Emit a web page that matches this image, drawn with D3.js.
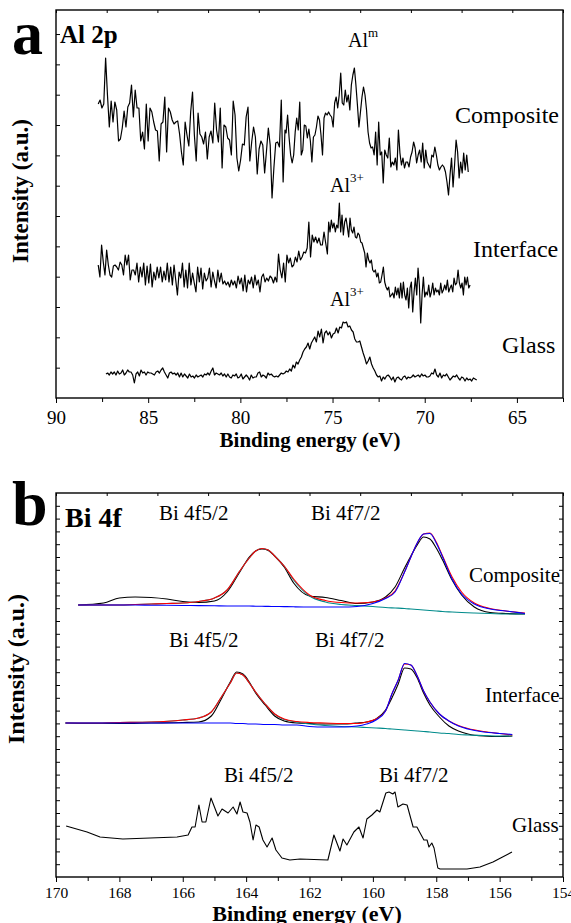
<!DOCTYPE html>
<html>
<head>
<meta charset="utf-8">
<script src="https://cdn.jsdelivr.net/npm/d3@7"></script>
<style>
    body { margin: 0; background: #fff; }
    svg text { font-family: "Liberation Serif", "Tinos", "DejaVu Serif", "Noto Serif", serif; fill: #000; }
</style>
</head>
<body>
<div id="chart"></div>
<script>
// ---------------- panel a : Al 2p (intensity in arbitrary units) ----------------
const alTicksMajor = [90, 85, 80, 75, 70, 65];
const alTicksMinor = [87.5, 82.5, 77.5, 72.5, 67.5, 62.5];

// Composite, 87.71 -> 77.58 eV
const alCompositeA = [294, 298, 290, 294, 340, 303, 271, 297, 276, 296, 288, 257, 259, 270, 287, 271, 291, 295, 313, 281,
    308, 290, 290, 257, 266, 249, 294, 257, 290, 286, 276, 268, 267, 237, 274, 276, 301, 246, 290, 286,
    278, 274, 276, 277, 264, 246, 233, 276, 263, 252, 286, 306, 263, 237, 285, 264, 261, 254, 266, 239,
    261, 267, 255, 295, 268, 256, 290, 230, 273, 271, 260, 258, 243, 297, 283, 240, 227, 238, 254, 253,
    281, 291, 237, 256, 271, 261, 224, 249, 257, 253, 225, 247, 270, 253, 200, 230, 255, 256, 251, 298,
    216, 268];
// Composite, 77.52 -> 67.64 eV
const alCompositeB = [265, 283, 260, 243, 235, 243, 266, 280, 268, 296, 243, 248, 273, 272, 260, 269, 257, 236, 261, 263,
    271, 282, 278, 263, 243, 280, 285, 283, 286, 283, 281, 271, 295, 301, 290, 303, 325, 295, 293, 308,
    296, 303, 288, 313, 323, 330, 313, 293, 271, 286, 301, 311, 303, 288, 266, 255, 250, 251, 243, 266,
    233, 276, 243, 246, 215, 248, 243, 240, 260, 231, 236, 233, 240, 228, 268, 245, 233, 240, 230, 236,
    236, 231, 241, 246, 256, 250, 235, 243, 248, 236, 255, 230, 248, 236, 233, 230, 243, 241, 251, 243,
    233, 228, 231, 233, 231, 226, 216, 203, 223, 240, 211, 233, 258, 246, 220, 236, 225, 245, 228, 243,
    226];
// Interface, 87.71 -> 75.28 eV
const alInterfaceA = [133, 121, 153, 136, 123, 148, 133, 123, 121, 132, 133, 131, 128, 136, 133, 123, 143, 133, 143, 118,
    128, 128, 123, 135, 116, 131, 121, 135, 113, 132, 115, 134, 111, 126, 118, 131, 120, 131, 116, 127,
    118, 135, 116, 131, 113, 133, 118, 103, 126, 120, 135, 111, 128, 110, 135, 113, 125, 115, 106, 131,
    116, 130, 109, 125, 117, 120, 130, 111, 126, 117, 110, 128, 116, 125, 114, 117, 113, 116, 111, 118,
    113, 117, 110, 122, 114, 120, 107, 123, 106, 118, 114, 121, 110, 123, 113, 118, 106, 121, 124, 116,
    120, 117, 122, 120, 115, 121, 116, 144, 128, 120, 135, 116, 143, 135, 140, 131, 133, 141, 136, 147,
    138, 141, 146, 145, 150, 176, 141, 163, 156, 161, 155, 160, 153, 153, 166, 155, 144];
// Interface, 75.21 -> 67.54 eV
const alInterfaceB = [176, 166, 178, 170, 175, 166, 173, 170, 195, 166, 183, 163, 176, 180, 171, 161, 180, 168, 165, 171,
    161, 160, 165, 163, 156, 155, 150, 145, 131, 145, 138, 135, 138, 128, 126, 128, 121, 125, 115, 116,
    123, 131, 116, 111, 108, 111, 101, 103, 105, 100, 111, 103, 110, 100, 115, 100, 116, 103, 98, 110,
    90, 110, 116, 86, 106, 120, 103, 130, 113, 75, 103, 121, 101, 106, 103, 113, 101, 106, 115, 103,
    110, 106, 108, 103, 115, 105, 108, 113, 108, 118, 106, 110, 113, 106, 120, 113, 115, 128, 115, 110,
    115, 103, 121, 113, 121, 110, 113];
// Glass, 87.29 -> 67.18 eV
const alGlass = [24, 25, 23, 26, 24, 26, 23, 27, 24, 25, 28, 23, 25, 28, 26, 26, 23, 15, 24, 26,
    22, 28, 25, 26, 23, 26, 25, 25, 24, 23, 26, 27, 25, 28, 30, 26, 23, 20, 25, 26,
    24, 25, 23, 25, 21, 25, 21, 24, 22, 20, 24, 21, 22, 20, 23, 21, 22, 23, 21, 24,
    23, 25, 23, 27, 30, 23, 25, 24, 23, 25, 22, 24, 21, 24, 21, 20, 23, 22, 24, 20,
    21, 24, 19, 21, 23, 21, 18, 23, 20, 21, 21, 25, 26, 21, 23, 22, 20, 25, 23, 24,
    22, 21, 22, 21, 23, 25, 24, 25, 27, 26, 29, 27, 33, 30, 36, 34, 38, 41, 46, 49,
    51, 55, 49, 55, 58, 61, 56, 67, 61, 69, 55, 65, 67, 63, 66, 60, 64, 65, 70, 65,
    71, 70, 76, 75, 76, 71, 72, 68, 66, 59, 56, 56, 57, 51, 45, 40, 34, 37, 41, 34,
    30, 27, 23, 21, 22, 17, 21, 19, 22, 23, 21, 18, 21, 16, 20, 21, 19, 18, 21, 22,
    19, 21, 20, 21, 23, 21, 22, 23, 21, 24, 22, 23, 21, 21, 22, 25, 24, 29, 23, 21,
    25, 20, 23, 22, 24, 21, 18, 20, 22, 21, 23, 20, 18, 21, 20, 17, 20, 18, 19, 17,
    20, 19, 18];

// ---------------- panel b : Bi 4f ----------------
const biTicksMajor = [170, 168, 166, 164, 162, 160, 158, 156, 154];
const biTicksMinor = [169, 167, 165, 163, 161, 159, 157, 155];

const biCompE = [169.3, 168.5, 168, 167.5, 167, 166.5, 166, 165.5, 165, 164.6, 164.2, 163.9, 163.7, 163.5, 163.3, 163.1,
    162.8, 162.5, 162, 161.5, 161, 160.5, 160, 159.6, 159.3, 159, 158.8, 158.6, 158.4, 158.2, 158, 157.8,
    157.5, 157.2, 156.8, 156.3, 155.8, 155.2];
const biCompRaw = [272, 274, 279, 280, 279.5, 278, 275.5, 274.5, 276, 285, 305, 320, 326, 328, 326.5, 321,
    310, 294, 281, 279.5, 276.5, 273.5, 275, 280, 290, 309, 321, 332, 340, 338, 329, 317,
    297, 282, 270, 264.5, 263.5, 263];
const biCompEnvelope = [272, 272, 272, 272.5, 273, 273.5, 274, 275.5, 279, 287, 306, 319, 326, 328.5, 327, 321,
    311, 298, 282, 276.5, 274.5, 274, 275, 279, 286, 305, 320, 334, 343, 344, 335, 321,
    300, 285, 274, 268.5, 266, 264];
const biCompF72 = [272, 272, 272, 272, 271.8, 271.7, 271.5, 271.4, 271.2, 271, 271, 271, 270.8, 270.7, 270.6, 270.5,
    270.4, 270.2, 270, 270, 270, 270.5, 273.5, 278.5, 285, 305, 320, 334, 343, 343.5, 334, 320,
    298, 283, 273, 268, 266, 263.5];
const biCompF52 = [272, 272, 272, 272.5, 273, 273.5, 274, 275.5, 279, 287, 306, 319, 326, 328.5, 327, 321,
    311, 297, 281, 275, 272.5, 271.5, 270.5, 269.5, 269, 268.5, 268, 267.5, 267, 266.5, 266, 265.5,
    265, 264.5, 264, 263.5, 263, 263];

const biIntE = [169.7, 169, 168, 167, 166, 165.5, 165.1, 164.8, 164.5, 164.3, 164.1, 163.9, 163.7, 163.4, 163.1, 162.8,
    162.4, 162, 161.5, 161, 160.5, 160.2, 159.9, 159.6, 159.4, 159.2, 159, 158.8, 158.6, 158.4, 158.2, 157.9,
    157.6, 157.3, 157, 156.5, 156, 155.6];
const biIntRaw = [154, 153.5, 153.5, 154, 154.5, 155, 161, 177, 195, 205, 203, 195, 184, 172, 161, 156,
    154, 153.5, 153, 153, 154, 155, 158, 167, 179, 193, 209, 208, 199, 184, 172, 160,
    151, 146, 143, 141, 140.5, 141];
const biIntEnvelope = [154, 154, 154.5, 155, 157, 159, 165, 179, 194, 204, 202, 194, 185, 173, 163, 158,
    155.5, 154.5, 154, 153.5, 153.5, 155, 158, 166, 183, 197, 213, 212, 201, 186, 175, 163,
    156, 151.5, 148.5, 145.5, 143.5, 142];
const biIntF72 = [154, 154, 154, 154, 154, 154, 154, 154, 154, 153.5, 153.5, 153, 153, 152.5, 152.5, 152,
    152, 150.5, 150, 150, 151, 153, 157, 166, 183, 197, 213.5, 212, 201, 186, 175, 163,
    156, 151, 148, 145, 143.5, 142.5];
const biIntF52 = [154, 154, 154.5, 155, 157, 159, 165, 179, 194, 204, 202, 194, 185, 173, 163, 157.5,
    155, 153, 151.5, 150.5, 150, 149.5, 149, 148.5, 148, 147.5, 147, 146.5, 146, 145.5, 145, 144,
    143.5, 142.5, 142, 141.5, 141, 141];

const biGlassE = [169.68, 169.02, 168.61, 167.89, 167.03, 166.18, 165.83, 165.71, 165.61, 165.49, 165.39, 165.27,
    165.11, 164.89, 164.76, 164.57, 164.41, 164.29, 164.19, 164.10, 163.97, 163.88, 163.78, 163.69,
    163.59, 163.47, 163.34, 163.18, 163.06, 162.87, 162.62, 162.30, 161.42, 161.23, 161.04, 160.94,
    160.82, 160.60, 160.44, 160.31, 160.19, 160.03, 159.87, 159.78, 159.59, 159.49, 159.37, 159.30,
    159.21, 159.05, 158.92, 158.73, 158.61, 158.51, 158.39, 158.29, 158.23, 158.14, 158.07, 157.95,
    157.88, 157.03, 156.62, 156.21, 155.61];
const biGlass = [51, 45, 40, 38, 39, 40, 42, 50, 50, 72, 55, 55,
    79, 61, 68, 64, 70, 63, 75, 65, 64, 55, 37, 52,
    50, 37, 30, 39, 27, 19, 17, 18, 17, 42, 26, 38,
    32, 45, 50, 39, 58, 62, 67, 65, 84, 85, 83, 85,
    70, 73, 72, 50, 50, 44, 37, 37, 30, 34, 29, 9,
    8, 8, 10, 15, 25];

// ---------------- helpers ----------------
const W = 571, H = 923;
const plotLeft = 56, plotRight = 563;
const serif = "Liberation Serif, Tinos, DejaVu Serif, Noto Serif, serif";

const svg = d3.select("#chart").append("svg")
    .attr("width", W)
    .attr("height", H);

// sampling grid of a scan segment (evenly spaced channels)
function scan(from, to, values) {
    return values.map((v, i) => [from + (to - from) * i / (values.length - 1), v]);
}

function drawFrame(cfg) {
    let g = svg.append("g");

    let x = d3.scaleLinear().domain(cfg.xDomain).range([plotLeft, plotRight]);
    let y = d3.scaleLinear().domain(cfg.yDomain).range([cfg.bottom, cfg.top]);

    // bottom axis, major + minor
    let ax = g.append("g")
        .attr("transform", "translate(0," + cfg.bottom + ")")
        .call(d3.axisBottom(x).tickValues(cfg.major).tickSize(5).tickPadding(cfg.tickPad).tickFormat(d3.format("d")));
    ax.attr("font-family", serif).attr("font-size", cfg.tickFont);
    g.append("g")
        .attr("transform", "translate(0," + cfg.bottom + ")")
        .call(d3.axisBottom(x).tickValues(cfg.minor).tickSize(4).tickFormat(""));

    // top ticks (unlabelled, 10 intervals)
    let top = d3.scaleLinear().domain([0, 10]).range([plotLeft, plotRight]);
    g.append("g")
        .attr("transform", "translate(0," + cfg.top + ")")
        .call(d3.axisTop(top).ticks(10).tickSize(-3).tickFormat(""));

    // left ticks pointing inside
    g.append("g")
        .attr("transform", "translate(" + plotLeft + ",0)")
        .call(d3.axisLeft(y).tickValues(cfg.leftTicks).tickSize(-4).tickFormat(""));

    if (cfg.rightTicks) {
        g.append("g")
            .attr("transform", "translate(" + plotRight + ",0)")
            .call(d3.axisRight(y).tickValues(cfg.rightTicks).tickSize(-4).tickFormat(""));
    }

    g.selectAll(".domain").remove();
    g.selectAll(".tick line").attr("stroke", "#000").attr("stroke-width", 1);

    g.append("rect")
        .attr("x", plotLeft).attr("y", cfg.top)
        .attr("width", plotRight - plotLeft).attr("height", cfg.bottom - cfg.top)
        .attr("fill", "none").attr("stroke", "#000").attr("stroke-width", 1.4);

    // axis titles
    g.append("text")
        .attr("x", cfg.xTitle[0]).attr("y", cfg.xTitle[1])
        .attr("text-anchor", "middle")
        .attr("font-weight", "bold")
        .attr("font-size", cfg.xTitle[2])
        .text("Binding energy (eV)");
    g.append("text")
        .attr("transform", "translate(" + cfg.yTitle[0] + "," + cfg.yTitle[1] + ") rotate(-90)")
        .attr("text-anchor", "middle")
        .attr("font-weight", "bold")
        .attr("font-size", cfg.yTitle[2])
        .text("Intensity (a.u.)");

    return {x: x, y: y};
}

function label(txt, x, y, size, opts) {
    opts = opts || {};
    let t = svg.append("text")
        .attr("x", x).attr("y", y)
        .attr("font-size", size)
        .attr("font-weight", opts.bold ? "bold" : "normal")
        .text(txt);
    if (opts.sup) {
        t.append("tspan")
            .attr("dy", -opts.supRise)
            .attr("font-size", opts.supSize)
            .text(opts.sup);
    }
    return t;
}

function drawLine(sc, pts, color, width, curve) {
    let line = d3.line()
        .x(d => sc.x(d[0]))
        .y(d => sc.y(d[1]))
        .curve(curve || d3.curveLinear);
    svg.append("path")
        .datum(pts)
        .attr("d", line)
        .attr("fill", "none")
        .attr("stroke", color)
        .attr("stroke-width", width)
        .attr("stroke-linejoin", "round");
}

// ---------------- panel a ----------------
let scA = drawFrame({
    top: 10, bottom: 398,
    xDomain: [90, 62.5], yDomain: [0, 388],
    major: alTicksMajor, minor: alTicksMinor,
    tickPad: 8, tickFont: 19,
    leftTicks: d3.range(1, 13).map(k => k * 30.33),
    xTitle: [310, 447, 21],
    yTitle: [28, 191, 23]
});

drawLine(scA, scan(87.71, 77.58, alCompositeA).concat(scan(77.52, 67.64, alCompositeB)), "#000", 1.2);
drawLine(scA, scan(87.71, 75.28, alInterfaceA).concat(scan(75.21, 67.54, alInterfaceB)), "#000", 1.2);
drawLine(scA, scan(87.29, 67.18, alGlass), "#000", 1.2);

label("a", 12, 54, 62, {bold: true});
label("Al 2p", 60, 43, 25, {bold: true});
label("Al", 348, 47, 20, {sup: "m", supSize: 13, supRise: 10});
label("Composite", 455, 123, 24);
label("Al", 330, 192, 20, {sup: "3+", supSize: 13, supRise: 10});
label("Interface", 473, 257, 24);
label("Al", 330, 306, 20, {sup: "3+", supSize: 13, supRise: 10});
label("Glass", 502, 353, 24);

// ---------------- panel b ----------------
let scB = drawFrame({
    top: 493, bottom: 877,
    xDomain: [170, 154], yDomain: [0, 384],
    major: biTicksMajor, minor: biTicksMinor,
    tickPad: 5, tickFont: 15.5,
    leftTicks: d3.range(1, 30).map(k => k * 12.8),
    rightTicks: d3.range(1, 30).map(k => k * 12.8),
    xTitle: [307, 921, 22],
    yTitle: [24, 669, 24]
});

const fitCurve = d3.curveMonotoneX;
const zip = (e, v) => e.map((d, i) => [d, v[i]]);

drawLine(scB, zip(biCompE, biCompRaw), "#000", 1.1, fitCurve);
drawLine(scB, zip(biCompE, biCompF52), "#008b8b", 1.1, fitCurve);
drawLine(scB, zip(biCompE, biCompEnvelope), "#ff0000", 1.1, fitCurve);
drawLine(scB, zip(biCompE, biCompF72), "#0000ff", 1.1, fitCurve);

drawLine(scB, zip(biIntE, biIntRaw), "#000", 1.1, fitCurve);
drawLine(scB, zip(biIntE, biIntF52), "#008b8b", 1.1, fitCurve);
drawLine(scB, zip(biIntE, biIntEnvelope), "#ff0000", 1.1, fitCurve);
drawLine(scB, zip(biIntE, biIntF72), "#0000ff", 1.1, fitCurve);

drawLine(scB, zip(biGlassE, biGlass), "#000", 1.1);

label("b", 12, 525, 64, {bold: true});
label("Bi 4f", 65, 527, 28, {bold: true});
label("Bi 4f5/2", 159, 520, 21);
label("Bi 4f7/2", 311, 520, 21);
label("Composite", 469, 582, 21);
label("Bi 4f5/2", 169, 647, 21);
label("Bi 4f7/2", 315, 647, 21);
label("Interface", 485, 702, 21);
label("Bi 4f5/2", 224, 782, 21);
label("Bi 4f7/2", 379, 782, 21);
label("Glass", 512, 832, 21);
</script>
</body>
</html>
